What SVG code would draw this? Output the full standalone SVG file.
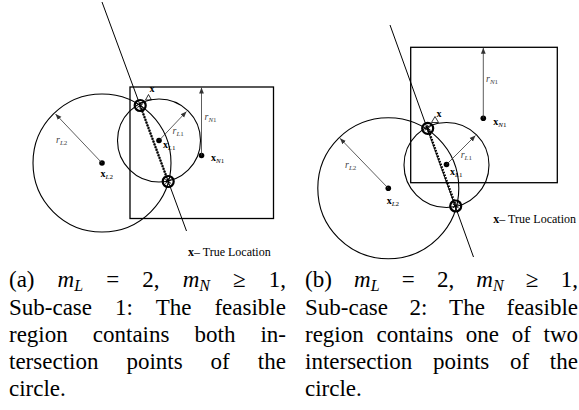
<svg xmlns="http://www.w3.org/2000/svg" width="579" height="410" viewBox="0 0 579 410">
<style>
.geo{fill:none;stroke:#000;stroke-width:1.1}
.box{fill:none;stroke:#000;stroke-width:1.3}
.ray{fill:none;stroke:#000;stroke-width:1}
.rad{fill:none;stroke:#333;stroke-width:0.8;marker-end:url(#ah)}
.chord{fill:none;stroke:#000;stroke-width:2.4;stroke-dasharray:1.6 1.3}
.ring{fill:none;stroke:#000;stroke-width:2.2}
.tri{fill:none;stroke:#000;stroke-width:0.8}
.dot{fill:#000}
.lbl{font-family:"Liberation Serif","Times New Roman",serif;font-size:10px;fill:#000}
.lb{font-weight:bold}
.sub{font-size:7px}
.rl{fill:#444}
.it{font-style:italic}
.cap{font-family:"Liberation Serif","Times New Roman",serif;font-size:23px;fill:#000}
.note{font-family:"Liberation Serif","Times New Roman",serif;font-size:12px;fill:#000}
</style>
<defs>
<marker id="ah" viewBox="0 0 10 10" refX="10" refY="5" markerWidth="6" markerHeight="6" markerUnits="userSpaceOnUse" orient="auto"><path d="M0,1 L10,5 L0,9 z" fill="#333"/></marker>
<g id="xmark"><circle r="5.5" class="ring"/><path d="M-3,-2 L3,2 M-3,2 L3,-2 M0,-3.5 L0,3.5" stroke="#000" stroke-width="0.9"/></g>
</defs>

<!-- Panel (a) -->
<g id="a-circle-L2"><circle class="geo" cx="102" cy="163" r="69"/><circle class="dot" cx="102" cy="163" r="2.8"/>
<text class="lbl" x="100.5" y="176.5"><tspan class="lb">x</tspan><tspan class="sub it" dy="2">L</tspan><tspan class="sub">2</tspan></text></g>
<g id="a-circle-L1"><circle class="geo" cx="159" cy="140.5" r="41.5"/><circle class="dot" cx="159" cy="140.5" r="2.8"/>
<text class="lbl" x="163" y="148"><tspan class="lb">x</tspan><tspan class="sub it" dy="2">L</tspan><tspan class="sub">1</tspan></text></g>
<g id="a-region-N1"><rect class="box" x="130" y="87" width="143.5" height="131.5"/><circle class="dot" cx="201.5" cy="155.5" r="2.8"/>
<text class="lbl" x="211" y="161"><tspan class="lb">x</tspan><tspan class="sub it" dy="2">N</tspan><tspan class="sub">1</tspan></text></g>
<g id="a-intersections"><use href="#xmark" x="140.2" y="105.5"/><use href="#xmark" x="168.2" y="181.5"/></g>
<g id="a-true-location"><polygon class="tri" points="145.5,100 151.5,100 148.5,94.5"/><text class="lbl lb" x="149.5" y="92">x</text></g>
<g id="a-legend"><text class="note" x="188" y="256"><tspan class="lb">x</tspan>– True Location</text></g>

<!-- Panel (b) -->
<g id="b-circle-L2"><circle class="geo" cx="388.3" cy="188.3" r="70.5"/><circle class="dot" cx="388.3" cy="188.3" r="2.8"/>
<text class="lbl" x="386.7" y="203.5"><tspan class="lb">x</tspan><tspan class="sub it" dy="2">L</tspan><tspan class="sub">2</tspan></text></g>
<g id="b-circle-L1"><circle class="geo" cx="446.5" cy="165" r="42.5"/><circle class="dot" cx="446.5" cy="164.5" r="2.8"/>
<text class="lbl" x="450" y="174.5"><tspan class="lb">x</tspan><tspan class="sub it" dy="2">L</tspan><tspan class="sub">1</tspan></text></g>
<g id="b-region-N1"><rect class="box" x="410.7" y="47.3" width="146.6" height="135.4"/><circle class="dot" cx="483.3" cy="118.3" r="2.8"/>
<text class="lbl" x="493.3" y="125"><tspan class="lb">x</tspan><tspan class="sub it" dy="2">N</tspan><tspan class="sub">1</tspan></text></g>
<g id="b-intersections"><use href="#xmark" x="427.7" y="128.3"/><use href="#xmark" x="455.7" y="206"/></g>
<g id="b-true-location"><polygon class="tri" points="431.5,122.5 438.5,122.5 435,116.5"/><text class="lbl lb" x="436.5" y="116.5">x</text></g>
<g id="b-legend"><text class="note" x="493.3" y="222.5"><tspan class="lb">x</tspan>– True Location</text></g>

<!-- Connectors -->
<g id="connectors">
<line class="ray" x1="102" y1="2" x2="186.5" y2="231"/>
<line class="chord" x1="140.2" y1="105.5" x2="168.2" y2="181.5"/>
<line class="rad" x1="102" y1="163" x2="55.5" y2="114"/>
<line class="rad" x1="159" y1="140.5" x2="186.5" y2="111.5"/>
<line class="rad" x1="201.5" y1="155.5" x2="201.5" y2="87.5"/>
<line class="ray" x1="390" y1="25" x2="473.5" y2="257"/>
<line class="chord" x1="427.7" y1="128.3" x2="455.7" y2="206"/>
<line class="rad" x1="388.3" y1="188.3" x2="340" y2="138.3"/>
<line class="rad" x1="446.5" y1="164.5" x2="475.5" y2="135.5"/>
<line class="rad" x1="483.3" y1="118.3" x2="483.3" y2="47.8"/>
</g>
<g id="radius-labels">
<text class="lbl rl" x="56" y="142.5"><tspan class="it">r</tspan><tspan class="sub it" dy="2">L</tspan><tspan class="sub">2</tspan></text>
<text class="lbl rl" x="172.5" y="133.5"><tspan class="it">r</tspan><tspan class="sub it" dy="2">L</tspan><tspan class="sub">1</tspan></text>
<text class="lbl rl" x="204.5" y="120"><tspan class="it">r</tspan><tspan class="sub it" dy="2">N</tspan><tspan class="sub">1</tspan></text>
<text class="lbl rl" x="345" y="167.5"><tspan class="it">r</tspan><tspan class="sub it" dy="2">L</tspan><tspan class="sub">2</tspan></text>
<text class="lbl rl" x="460.7" y="157.5"><tspan class="it">r</tspan><tspan class="sub it" dy="2">L</tspan><tspan class="sub">1</tspan></text>
<text class="lbl rl" x="486" y="82"><tspan class="it">r</tspan><tspan class="sub it" dy="2">N</tspan><tspan class="sub">1</tspan></text>
</g>

<!-- Captions -->
<g id="caption-a" class="cap">
<text x="9" y="287">(a)</text>
<text x="57.6" y="287"><tspan class="it">m</tspan><tspan class="it" font-size="16" dy="4">L</tspan></text>
<text x="106.2" y="287">=</text>
<text x="142.3" y="287">2,</text>
<text x="182.65" y="287"><tspan class="it">m</tspan><tspan class="it" font-size="16" dy="4">N</tspan></text>
<text x="233.05" y="287">≥</text>
<text x="268.75" y="287">1,</text>
<text x="9" y="315">Sub-case</text><text x="114.9" y="315">1:</text><text x="155.7" y="315">The</text><text x="214.4" y="315">feasible</text>
<text x="9" y="342">region</text><text x="92.8" y="342">contains</text><text x="194.5" y="342">both</text><text x="260.4" y="342">in-</text>
<text x="9" y="369">tersection</text><text x="126.4" y="369">points</text><text x="210.6" y="369">of</text><text x="257.8" y="369">the</text>
<text x="9" y="396">circle.</text>
</g>
<g id="caption-b" class="cap">
<text x="305" y="287">(b)</text>
<text x="354" y="287"><tspan class="it">m</tspan><tspan class="it" font-size="16" dy="4">L</tspan></text>
<text x="401.7" y="287">=</text>
<text x="436.9" y="287">2,</text>
<text x="476.35" y="287"><tspan class="it">m</tspan><tspan class="it" font-size="16" dy="4">N</tspan></text>
<text x="525.85" y="287">≥</text>
<text x="560.65" y="287">1,</text>
<text x="305" y="315">Sub-case</text><text x="409.6" y="315">2:</text><text x="449.1" y="315">The</text><text x="506.5" y="315">feasible</text>
<text x="305" y="342">region</text><text x="376.45" y="342">contains</text><text x="465.8" y="342">one</text><text x="511.65" y="342">of</text><text x="543.5" y="342">two</text>
<text x="305" y="369">intersection</text><text x="433" y="369">points</text><text x="509.9" y="369">of</text><text x="549.8" y="369">the</text>
<text x="305" y="396">circle.</text>
</g>
</svg>
